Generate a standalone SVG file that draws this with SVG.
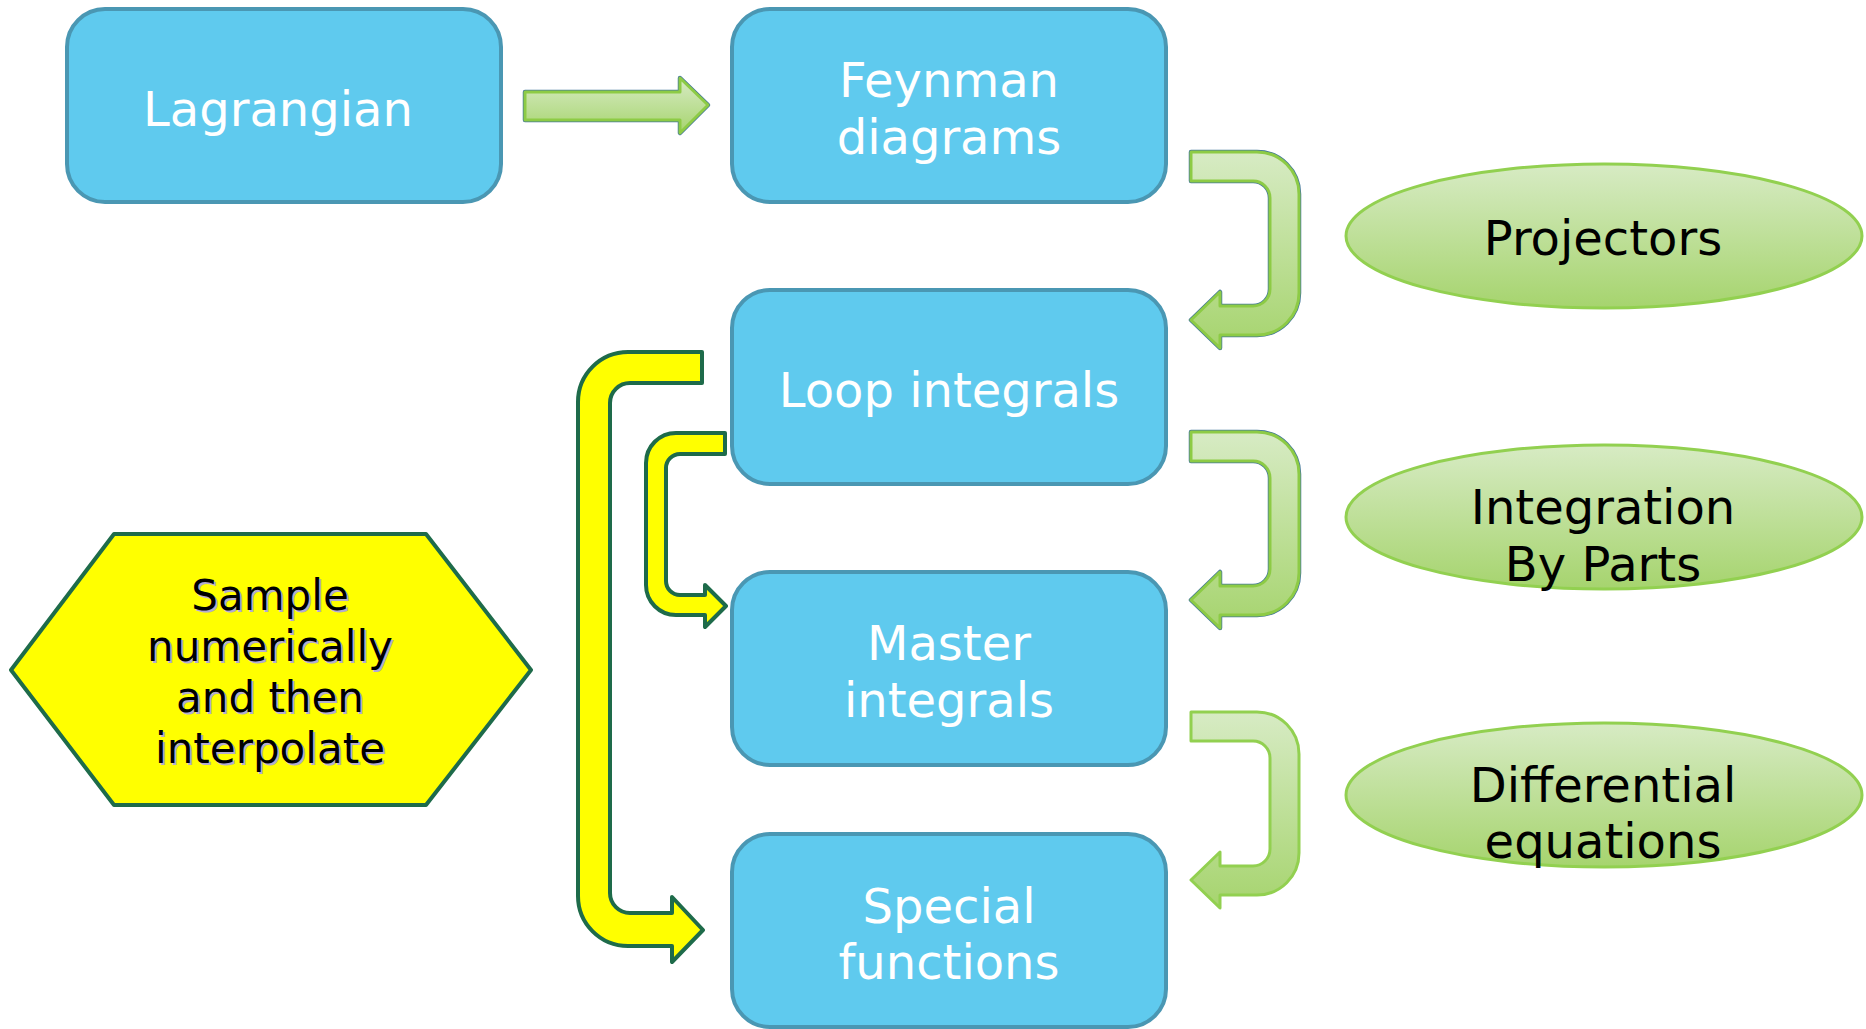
<svg xmlns="http://www.w3.org/2000/svg" xmlns:xlink="http://www.w3.org/1999/xlink" width="1866" height="1029" viewBox="0 0 1866 1029">
  <defs>
    <linearGradient id="greenFill" x1="0" y1="0" x2="0" y2="1">
      <stop offset="0" stop-color="#D7EBC4"/>
      <stop offset="1" stop-color="#A6D46E"/>
    </linearGradient>
    <!-- bent green arrow pointing left, drawn once and reused -->
    <path id="bendLeft" d="M 1191 152 H 1257 A 42 42 0 0 1 1299 194 V 293 A 42 42 0 0 1 1257 335 H 1220 V 348 L 1191 320 L 1220 292 V 306 H 1253 A 17 17 0 0 0 1270 289 V 198 A 17 17 0 0 0 1253 181 H 1191 Z"/>
    <path id="straight" d="M 525 92 H 680 V 78 L 708 105 L 680 133 V 120 H 525 Z"/>
  </defs>
  <style>
    .box { fill: #5FCAEE; stroke: #4A97B3; stroke-width: 4; }
    .boxText { fill: #FFFFFF; font-family: "DejaVu Sans", Verdana, sans-serif; font-size: 48px; text-anchor: middle; }
    .oval { fill: url(#greenFill); stroke: #92D050; stroke-width: 3; }
    .ovalText { fill: #000000; font-family: "DejaVu Sans", Verdana, sans-serif; font-size: 48px; text-anchor: middle; }
    .hex { fill: #FFFF00; stroke: #1E6B4A; stroke-width: 4; stroke-linejoin: round; }
    .hexText { font-family: "DejaVu Sans", Verdana, sans-serif; font-size: 42px; text-anchor: middle; }
    .hexShadow { fill: #B3ACCF; }
    .hexInk { fill: #000000; }
    .edgeDark { fill: none; stroke: #44789A; stroke-width: 4.5; stroke-linejoin: round; }
    .edgeGreen { fill: url(#greenFill); stroke: #8DCB45; stroke-width: 3; stroke-linejoin: round; }
    .edgeYellow { fill: #FFFF00; stroke: #1E6B4A; stroke-width: 4; stroke-linejoin: round; }
  </style>

  <rect width="1866" height="1029" fill="#FFFFFF"/>

  <!-- connectors -->
  <g id="connectors">
    <!-- Lagrangian to Feynman diagrams -->
    <use xlink:href="#straight" class="edgeDark"/>
    <use xlink:href="#straight" class="edgeGreen"/>
    <!-- Feynman diagrams to Loop integrals -->
    <use xlink:href="#bendLeft" class="edgeDark"/>
    <use xlink:href="#bendLeft" class="edgeGreen"/>
    <!-- Loop integrals to Master integrals -->
    <use xlink:href="#bendLeft" class="edgeDark" transform="translate(0,280)"/>
    <use xlink:href="#bendLeft" class="edgeGreen" transform="translate(0,280)"/>
    <!-- Master integrals to Special functions -->
    <use xlink:href="#bendLeft" class="edgeGreen" transform="translate(0,560)" style="stroke:#92D050"/>
    <!-- Loop integrals to Special functions -->
    <path class="edgeYellow" d="M 702 352 V 383 H 630 A 20 20 0 0 0 610 403 V 893 A 20 20 0 0 0 630 913 H 672 V 897 L 703 930 L 672 962 V 946 H 628 A 50 50 0 0 1 578 896 V 402 A 50 50 0 0 1 628 352 Z"/>
    <!-- Loop integrals to Master integrals -->
    <path class="edgeYellow" d="M 725 433 V 454 H 680 A 14 14 0 0 0 666 468 V 581 A 14 14 0 0 0 680 595 H 705 V 585 L 726 606 L 705 627 V 615 H 676 A 30 30 0 0 1 646 585 V 463 A 30 30 0 0 1 676 433 Z"/>
  </g>

  <g id="lagrangian">
    <rect class="box" x="67" y="9" width="434" height="193" rx="38"/>
    <text class="boxText" x="278" y="126">Lagrangian</text>
  </g>

  <g id="feynman-diagrams">
    <rect class="box" x="732" y="9" width="434" height="193" rx="38"/>
    <text class="boxText" x="949" y="97">Feynman</text>
    <text class="boxText" x="949" y="154">diagrams</text>
  </g>

  <g id="loop-integrals">
    <rect class="box" x="732" y="290" width="434" height="194" rx="38"/>
    <text class="boxText" x="949" y="407">Loop integrals</text>
  </g>

  <g id="master-integrals">
    <rect class="box" x="732" y="572" width="434" height="193" rx="38"/>
    <text class="boxText" x="949" y="660">Master</text>
    <text class="boxText" x="949" y="717">integrals</text>
  </g>

  <g id="special-functions">
    <rect class="box" x="732" y="834" width="434" height="193" rx="38"/>
    <text class="boxText" x="949" y="923">Special</text>
    <text class="boxText" x="949" y="979">functions</text>
  </g>

  <g id="projectors">
    <ellipse class="oval" cx="1604" cy="236" rx="258" ry="72"/>
    <text class="ovalText" x="1603" y="255">Projectors</text>
  </g>

  <g id="integration-by-parts">
    <ellipse class="oval" cx="1604" cy="517" rx="258" ry="72"/>
    <text class="ovalText" x="1603" y="524">Integration</text>
    <text class="ovalText" x="1603" y="581">By Parts</text>
  </g>

  <g id="differential-equations">
    <ellipse class="oval" cx="1604" cy="795" rx="258" ry="72"/>
    <text class="ovalText" x="1603" y="802">Differential</text>
    <text class="ovalText" x="1603" y="858">equations</text>
  </g>

  <g id="sample-interpolate">
    <polygon class="hex" points="11,670 114,534 426,534 531,670 426,805 114,805"/>
    <g class="hexText hexShadow" transform="translate(2,2)">
      <text x="270" y="610">Sample</text>
      <text x="270" y="661">numerically</text>
      <text x="270" y="712">and then</text>
      <text x="270" y="763">interpolate</text>
    </g>
    <g class="hexText hexInk">
      <text x="270" y="610">Sample</text>
      <text x="270" y="661">numerically</text>
      <text x="270" y="712">and then</text>
      <text x="270" y="763">interpolate</text>
    </g>
  </g>
</svg>
